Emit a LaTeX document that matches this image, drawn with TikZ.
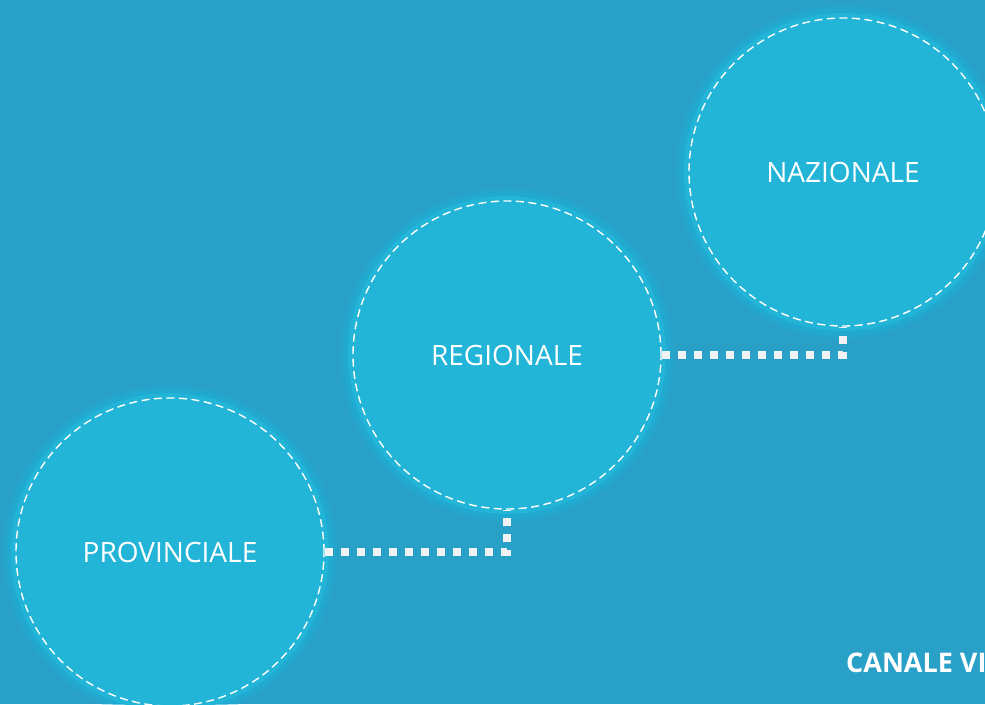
\documentclass[tikz,border=0pt]{standalone}
\usepackage{fontspec}
\setmainfont{Open Sans}
\definecolor{bgblue}{HTML}{29A0C8}
\definecolor{discblue}{HTML}{22B5D7}
\definecolor{haloblue}{HTML}{1DAFD6}
\definecolor{dotwhite}{HTML}{F2F2F2}
\begin{document}
\begin{tikzpicture}[x=1pt,y=-1pt,
    level/.style={circle,minimum size=308pt,inner sep=0pt,
      draw=white,line width=1.4pt,dash pattern=on 8pt off 4.5pt,
      text=white,font=\fontsize{28}{32}\selectfont,
      preaction={draw=haloblue,draw opacity=0.3,line width=26pt,solid},
      preaction={draw=haloblue,draw opacity=0.5,line width=18pt,solid},
      preaction={fill=discblue,draw=discblue,line width=10pt,solid}},
    link/.style={draw=dotwhite,line width=8pt,dash pattern=on 8pt off 8pt}]
  \useasboundingbox (0,0) rectangle (985,704);
  \clip (0,0) rectangle (985,704);
  \fill[bgblue] (0,0) rectangle (985,704);
  \node[level] (prov) at (170,552) {PROVINCIALE};
  \node[level] (reg) at (507,355) {REGIONALE};
  \node[level] (naz) at (843,172) {NAZIONALE};
  \draw[link] (prov.east) -| (reg.south);
  \draw[link] (reg.east) -| (naz.south);
  \node[anchor=base west,inner sep=0pt,text=white,
    font=\fontsize{27}{32}\selectfont\bfseries] (canale) at (846,672) {CANALE VI};
\end{tikzpicture}
\end{document}
